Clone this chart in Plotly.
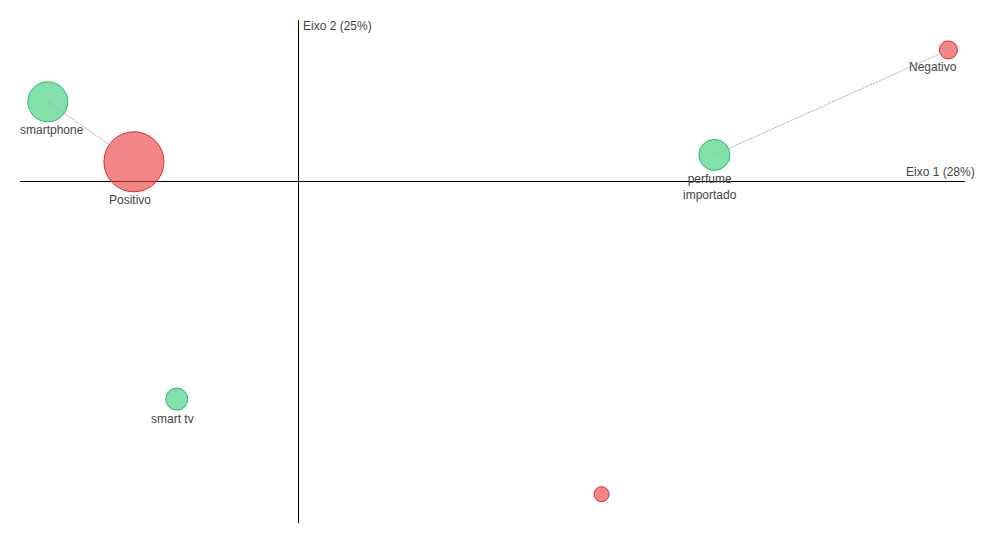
import plotly.graph_objects as go

# Correspondence-analysis style map
labels = ["smartphone", "perfume<br>importado", "smart tv", "Positivo", "Negativo", ""]
groups = ["produto", "produto", "produto", "sentimento", "sentimento", "sentimento"]
dim1 = [-0.834, 1.388, -0.404, -0.547, 2.168, 1.012]
dim2 = [0.264, 0.087, -0.727, 0.064, 0.437, -1.044]
sizes = [40, 31, 22, 60, 18, 15]

# connections (index pairs)
links = [(0, 3), (1, 4)]

axis1_title = "Eixo 1 (28%)"
axis2_title = "Eixo 2 (25%)"
x_range = [-0.9267, 2.2233]
y_range = [-1.14, 0.5367]

fill = {"produto": "rgba(46,204,113,0.6)", "sentimento": "rgba(235,59,59,0.62)"}
edge = {"produto": "rgb(39,185,100)", "sentimento": "rgb(230,40,45)"}
font = dict(family="Liberation Sans, Arial", size=12, color="#444")
# horizontal nudges of labels (pixels), keeping them inside the plot
label_nudge = {"smartphone": 4, "Negativo": -15}

fig = go.Figure()
fig.add_trace(go.Scatter(
    x=dim1, y=dim2, mode="markers", cliponaxis=False,
    marker=dict(size=sizes, opacity=1, color=[fill[g] for g in groups],
                line=dict(color=[edge[g] for g in groups], width=1)),
    hoverinfo="skip", showlegend=False))

for a, b in links:
    fig.add_trace(go.Scatter(
        x=[dim1[a], dim1[b]], y=[dim2[a], dim2[b]], mode="lines",
        line=dict(color="#aaa", width=1, dash="2px,1px"),
        hoverinfo="skip", showlegend=False))

for xv, yv, lab, s in zip(dim1, dim2, labels, sizes):
    if lab:
        fig.add_annotation(text=lab, x=xv, y=yv, xref="x", yref="y", showarrow=False,
                           xanchor="center", yanchor="top", yshift=-(s / 2 - 0.5),
                           xshift=label_nudge.get(lab, -4), font=font)

fig.update_xaxes(range=x_range, showgrid=False, showticklabels=False, zeroline=True,
                 zerolinecolor="black", zerolinewidth=1, showline=False, fixedrange=True)
fig.update_yaxes(range=y_range, showgrid=False, showticklabels=False, zeroline=True,
                 zerolinecolor="black", zerolinewidth=1, showline=False, fixedrange=True)

fig.add_annotation(text=axis1_title, xref="paper", yref="y", x=1, y=0,
                   xanchor="right", yanchor="bottom", xshift=12, yshift=0, showarrow=False,
                   font=font)
fig.add_annotation(text=axis2_title, xref="x", yref="paper", x=0, y=1,
                   xanchor="left", yanchor="middle", xshift=3, yshift=-6, showarrow=False,
                   font=font)

fig.update_layout(width=971, height=523, margin=dict(l=12, r=14, t=12, b=8),
                  plot_bgcolor="white", paper_bgcolor="white", hovermode=False)
fig.write_html("out.html")
